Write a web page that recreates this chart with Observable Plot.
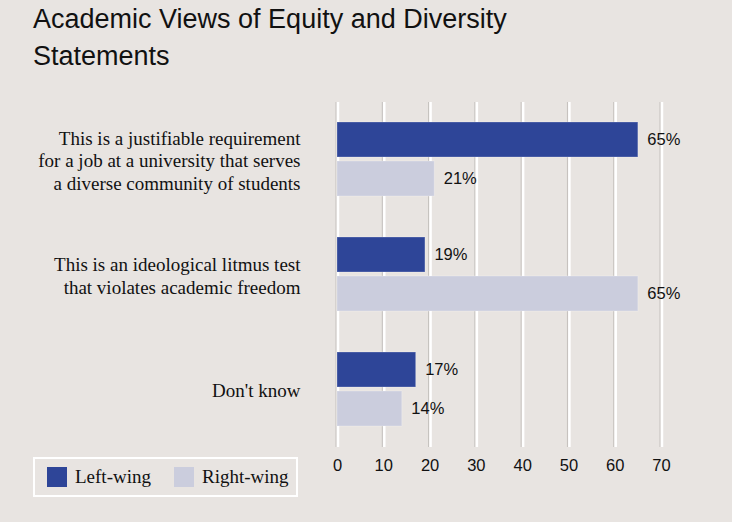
<!DOCTYPE html>
<html>
<head>
<meta charset="utf-8">
<script src="https://cdn.jsdelivr.net/npm/d3@7"></script>
<script src="https://cdn.jsdelivr.net/npm/@observablehq/plot@0.6"></script>
<style>
  html, body { margin: 0; padding: 0; background: #e8e4e1; }
  #wrap { position: relative; width: 732px; height: 522px; overflow: hidden; }
  #title { position: absolute; left: 33px; top: 1px; font-family: "Liberation Sans", Arial, sans-serif; font-size: 27px; line-height: 37px; color: #111; z-index: 2; }
  #chart { position: absolute; left: 0; top: 0; }
  #legend { position: absolute; left: 33px; top: 457px; width: 261px; height: 36px; border: 2px solid #fff; font-family: "Liberation Serif", "Times New Roman", serif; font-size: 19px; color: #111; z-index: 2; }
  .item { position: absolute; top: 7px; display: flex; align-items: center; }
  .sw { width: 20px; height: 20px; margin-right: 8px; }
</style>
</head>
<body>
<div id="wrap">
  <div id="title">Academic Views of Equity and Diversity<br>Statements</div>
  <div id="chart"></div>
  <div id="legend"></div>
</div>
<script>
const questions = [
  "This is a justifiable requirement\nfor a job at a university that serves\na diverse community of students",
  "This is an ideological litmus test\nthat violates academic freedom",
  "Don't know"
];
const parties = ["Left-wing", "Right-wing"];
const leftValues = [65, 19, 17];
const rightValues = [21, 65, 14];
const xTicks = [0, 10, 20, 30, 40, 50, 60, 70];
const colors = ["#2e4598", "#cbcddd"];

const data = questions.flatMap((q, i) => [
  {question: q, party: parties[0], value: leftValues[i]},
  {question: q, party: parties[1], value: rightValues[i]}
]);

const chart = Plot.plot({
  width: 732,
  height: 522,
  marginTop: 101,
  marginBottom: 74.5,
  marginLeft: 337,
  marginRight: 71,
  style: {background: "transparent", fontFamily: "Liberation Sans, Arial, sans-serif", fontSize: "16.5px", color: "#111"},
  x: {domain: [0, 70], ticks: xTicks, tickSize: 0, tickPadding: 12, label: null},
  y: {domain: parties, paddingInner: 0.1, paddingOuter: 0.494, axis: null},
  fy: {domain: questions, padding: 0, axis: null},
  color: {domain: parties, range: colors},
  marks: [
    Plot.ruleX(xTicks, {x: d => d, stroke: "#c4c0bd", strokeWidth: 1, dx: -1.5}),
    Plot.ruleX(xTicks, {x: d => d, stroke: "#ffffff", strokeWidth: 2.5, dx: 0.5}),
    Plot.barX(data, {x: "value", y: "party", fy: "question", fill: "party", stroke: "rgba(255,255,255,0.25)", strokeWidth: 1}),
    Plot.text(data, {x: "value", y: "party", fy: "question", text: d => d.value + "%", dx: 9, textAnchor: "start", fontSize: 16.5, fill: "#111"}),
    Plot.text(questions, {fy: d => d, text: d => d, frameAnchor: "left", dx: -37, textAnchor: "end",
      fontFamily: "Liberation Serif, Times New Roman, serif", fontSize: 19, lineHeight: 1.2, fill: "#111"})
  ]
});
document.getElementById("chart").appendChild(chart);

const legend = document.getElementById("legend");
const lefts = [12, 139];
parties.forEach((p, i) => {
  const it = document.createElement("div");
  it.className = "item";
  it.style.left = lefts[i] + "px";
  const sw = document.createElement("div");
  sw.className = "sw";
  sw.style.background = colors[i];
  const tx = document.createElement("span");
  tx.textContent = p;
  it.appendChild(sw);
  it.appendChild(tx);
  legend.appendChild(it);
});
</script>
</body>
</html>
